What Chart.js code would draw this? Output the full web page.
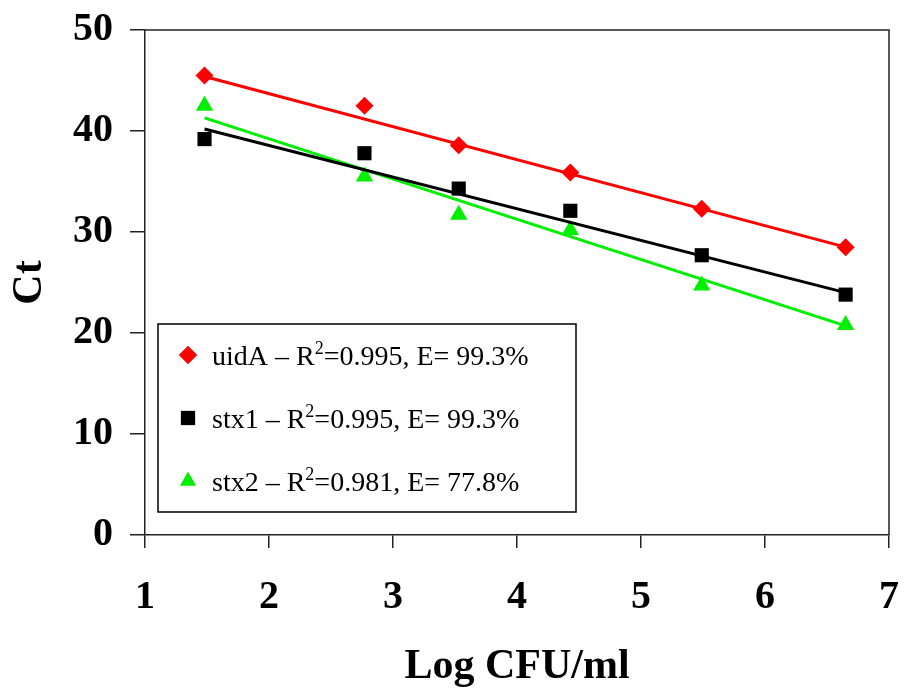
<!DOCTYPE html>
<html>
<head>
<meta charset="utf-8">
<script src="https://cdn.jsdelivr.net/npm/chart.js@4/dist/chart.umd.min.js"></script>
<style>
  html, body { margin: 0; padding: 0; background: #fff; }
  #wrap { width: 905px; height: 692px; }
</style>
</head>
<body>
<div id="wrap"><canvas id="c"></canvas></div>
<script>
// values
const logCfu = [1.48, 2.77, 3.53, 4.43, 5.49, 6.65];
const uidA = [45.5, 42.5, 38.6, 35.9, 32.3, 28.5];
const stx1 = [39.2, 37.8, 34.3, 32.1, 27.7, 23.8];
const stx2 = [42.5, 35.5, 31.7, 30.2, 24.7, 20.8];

// trend line ends (first x, last x)
const trendX = [1.48, 6.65];
const uidATrend = [45.4, 28.5];
const stx1Trend = [40.2, 24.0];
const stx2Trend = [41.3, 20.7];

const legendLabels = [
  ['uidA \u2013 R', '2', '=0.995, E= 99.3%'],
  ['stx1 \u2013 R', '2', '=0.995, E= 99.3%'],
  ['stx2 \u2013 R', '2', '=0.981, E= 77.8%']
];

const RED = '#ff0000', BLACK = '#000000', GREEN = '#00ee00';
const SERIF = '"Liberation Serif", "Times New Roman", serif';

const pts = (xs, ys) => xs.map((x, i) => ({ x: x, y: ys[i] }));

const markerDs = (data, color, style, r) => ({
  type: 'scatter',
  data: data,
  showLine: false,
  pointStyle: style,
  pointRadius: r,
  pointHoverRadius: r,
  pointBackgroundColor: color,
  pointBorderColor: color,
  pointBorderWidth: 0
});

const trendDs = (data, color) => ({
  type: 'line',
  data: data,
  borderColor: color,
  borderWidth: 3,
  pointRadius: 0,
  fill: false
});

// frame on top/right + legend box
const framePlugin = {
  id: 'frame',
  beforeDatasetsDraw(chart) {
    const { ctx, chartArea: a } = chart;
    ctx.save();
    ctx.strokeStyle = '#222';
    ctx.lineWidth = 1.5;
    ctx.beginPath();
    ctx.moveTo(a.left, a.top);
    ctx.lineTo(a.right, a.top);
    ctx.lineTo(a.right, a.bottom);
    ctx.stroke();
    ctx.restore();
  },
  afterDraw(chart) {
    const { ctx } = chart;
    const x = 158, y = 324, w = 418, h = 188;
    ctx.save();
    ctx.fillStyle = '#fff';
    ctx.fillRect(x, y, w, h);
    ctx.strokeStyle = '#000';
    ctx.lineWidth = 1.5;
    ctx.strokeRect(x, y, w, h);

    const rows = [355, 418, 481];
    const colors = [RED, BLACK, GREEN];
    const styles = ['rectRot', 'rect', 'triangle'];
    rows.forEach((ry, i) => {
      ctx.fillStyle = colors[i];
      Chart.helpers.drawPoint(ctx, {
        pointStyle: styles[i], radius: styles[i] === 'rect' ? 10 : 9, borderWidth: 0
      }, 188, ry);
      ctx.fill();

      const [a, sup, b] = legendLabels[i];
      ctx.fillStyle = '#000';
      ctx.textBaseline = 'alphabetic';
      ctx.font = '28px ' + SERIF;
      let tx = 212;
      const base = ry + 10;
      ctx.fillText(a, tx, base);
      tx += ctx.measureText(a).width;
      ctx.font = '18px ' + SERIF;
      ctx.fillText(sup, tx, base - 11);
      tx += ctx.measureText(sup).width;
      ctx.font = '28px ' + SERIF;
      ctx.fillText(b, tx, base);
    });
    ctx.restore();
  }
};

new Chart(document.getElementById('c'), {
  data: {
    datasets: [
      trendDs(pts(trendX, uidATrend), RED),
      trendDs(pts(trendX, stx1Trend), BLACK),
      trendDs(pts(trendX, stx2Trend), GREEN),
      markerDs(pts(logCfu, uidA), RED, 'rectRot', 9),
      markerDs(pts(logCfu, stx1), BLACK, 'rect', 10),
      markerDs(pts(logCfu, stx2), GREEN, 'triangle', 10)
    ]
  },
  options: {
    responsive: true,
    maintainAspectRatio: false,
    animation: false,
    layout: { padding: { left: 0, right: 16, top: 30, bottom: 0 } },
    plugins: { legend: { display: false }, tooltip: { enabled: false } },
    scales: {
      x: {
        type: 'linear',
        min: 1, max: 7,
        ticks: {
          stepSize: 1, color: '#000', padding: 26,
          font: { family: SERIF, size: 40, weight: 'bold' }
        },
        grid: { drawOnChartArea: false, drawTicks: true, tickLength: 13, color: '#222', lineWidth: 1.5 },
        border: { display: true, color: '#222', width: 1.5 },
        title: {
          display: true, text: 'Log CFU/ml', color: '#000',
          font: { family: SERIF, size: 42, weight: 'bold' },
          padding: { top: 0, bottom: 0 }
        },
        afterFit: (s) => { s.height = 157; s.paddingLeft = 0; s.paddingRight = 0; }
      },
      y: {
        type: 'linear',
        min: 0, max: 50,
        ticks: {
          stepSize: 10, color: '#000', padding: 17,
          font: { family: SERIF, size: 40, weight: 'bold' }
        },
        grid: { drawOnChartArea: false, drawTicks: true, tickLength: 15, color: '#222', lineWidth: 1.5 },
        border: { display: true, color: '#222', width: 1.5 },
        title: {
          display: true, text: 'Ct', color: '#000',
          font: { family: SERIF, size: 42, weight: 'bold' },
          padding: { top: 5, bottom: 0 }
        },
        afterFit: (s) => { s.width = 145; s.paddingTop = 0; s.paddingBottom = 0; }
      }
    }
  },
  plugins: [framePlugin]
});
</script>
</body>
</html>
